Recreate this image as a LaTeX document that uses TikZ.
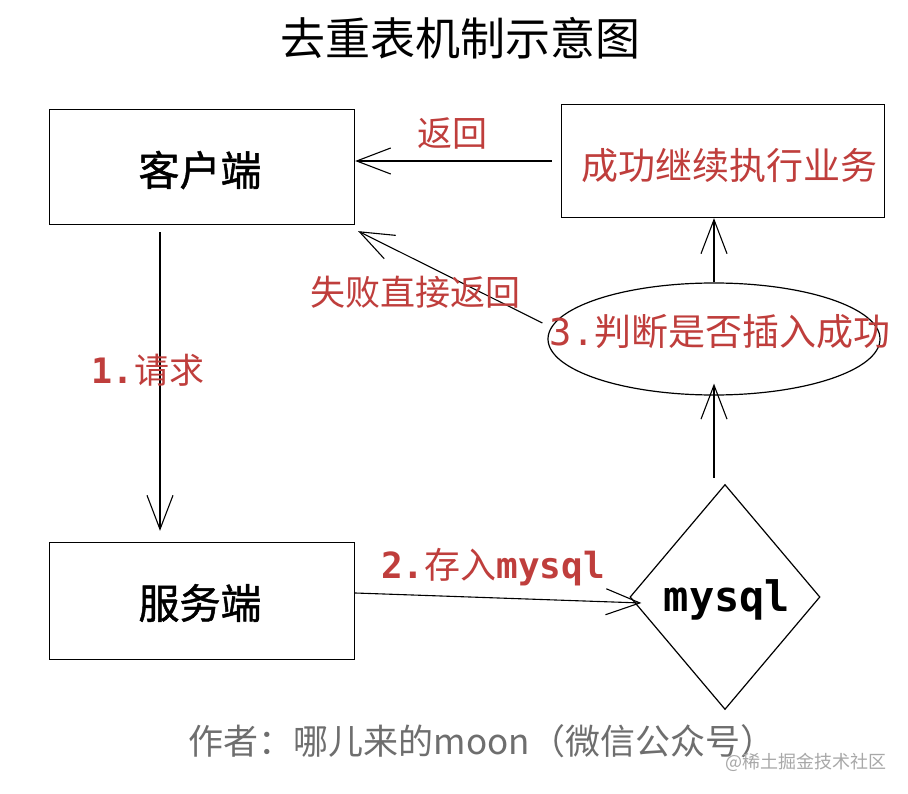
\documentclass[tikz,border=0pt]{standalone}
\usepackage{fontspec}
\setmainfont{Noto Sans CJK SC}
\newfontfamily\monof{DejaVu Sans Mono}
\newfontfamily\cjkmed[FakeBold=1.2]{Noto Sans CJK SC}
\usetikzlibrary{shapes.geometric,arrows.meta}
\definecolor{lblred}{HTML}{BF3E3C}
\definecolor{footgray}{HTML}{6E6E6E}
\definecolor{wmgray}{HTML}{A8A8A8}
\begin{document}
\begin{tikzpicture}[x=1pt,y=-1pt,
  box/.style={draw, line width=1.3pt, minimum width=305pt, minimum height=115pt, inner sep=0pt},
  arr/.style={line width=1.1pt, -{Straight Barb[length=34pt,width=26pt,line width=1.1pt]}},
  redlbl/.style={text=lblred, font=\fontsize{35}{38}\selectfont, inner sep=0pt},
  blk/.style={font=\cjkmed\fontsize{41}{44}\selectfont, inner sep=0pt}]
\useasboundingbox (0,0) rectangle (908,794);
\fill[white] (0,0) rectangle (908,794);
% title
\node[font=\fontsize{45}{48}\selectfont, inner sep=0pt] (title) at (460,38) {去重表机制示意图};
% boxes
\node[box] (client) at (202,167) {};
\node[blk] (clienttxt) at (200,170) {客户端};
\node[box, minimum width=323pt, minimum height=113pt] (succ) at (723,161) {};
\node[redlbl, font=\fontsize{37}{40}\selectfont] (succtxt) at (729,166) {成功继续执行业务};
\node[box, minimum height=117pt] (server) at (202,601) {};
\node[blk] (servertxt) at (200,603) {服务端};
% ellipse
\node[draw, ellipse, line width=1.2pt, minimum width=332pt, minimum height=112pt, inner sep=0pt] (judge) at (714,339) {};
\node[redlbl, font=\fontsize{37}{40}\selectfont] (judgetxt) at (720,332) {{\monof 3.}判断是否插入成功};
% diamond
\node[draw, diamond, line width=1.2pt, minimum width=190pt, minimum height=225pt, inner sep=0pt] (dia) at (725,597) {};
\node[font=\monof\bfseries\fontsize{42}{46}\selectfont, inner sep=0pt] (diatxt) at (727,600) {mysql};
% connectors
\draw[arr] (succ.west) ++(-9,0) coordinate (s1) -- (client.east |- s1);
\draw[arr] ([shift={(-5,-16)}]judge.west) -- ([shift={(3,6)}]client.south east);
\draw[arr] (judge.north) -- (judge.north |- succ.south);
\draw[arr, shorten <=6pt] (dia.north -| judge.south) -- ([yshift=12pt]judge.south);
\draw[arr, shorten <=7pt, shorten >=11pt] ([xshift=-42pt]client.south) -- ([xshift=-42pt]server.north);
\draw[arr] ([yshift=8pt]server.east) -- ([shift={(12,6)}]dia.west);
% labels
\node[redlbl] (l0) at (452,133) {返回};
\node[redlbl] (l1) at (415,292) {失败直接返回};
\node[redlbl] (l2) at (148,370) {{\monof\bfseries 1.}请求};
\node[redlbl, font=\fontsize{36}{40}\selectfont] (l3) at (493,567) {{\monof\bfseries 2.}存入{\monof\bfseries mysql}};
% footer
\node[text=footgray, font=\fontsize{35}{38}\selectfont, inner sep=0pt] (foot) at (482,741) {作者：哪儿来的moon（微信公众号）};
\node[text=wmgray, font=\fontsize{18}{20}\selectfont, inner sep=0pt] (wm) at (806,762) {@稀土掘金技术社区};
\end{tikzpicture}
\end{document}
